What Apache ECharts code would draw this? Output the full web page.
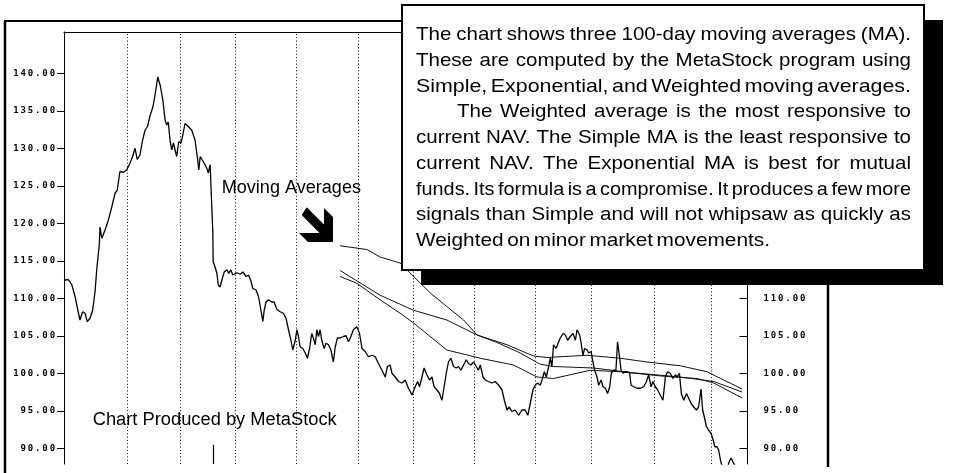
<!DOCTYPE html>
<html>
<head>
<meta charset="utf-8">
<title>100-day Moving Averages</title>
<script src="https://cdn.jsdelivr.net/npm/echarts@6/dist/echarts.min.js"></script>
<style>
  html, body { margin: 0; padding: 0; background: #fff; }
  #chart { width: 955px; height: 473px; }
</style>
</head>
<body>
<div id="chart"></div>
<script>
// Daily NAV: trading-day index and closing value
const priceDay = [0,1.6,2.9,4.1,5.9,6.9,7.8,8.6,9.6,10.6,
  11.5,12.1,13.1,13.3,14.0,15.2,16.4,17.7,18.9,19.7,
  20.7,22.0,23.2,24.4,25.4,26.3,27.1,28.1,29.1,30.0,
  30.9,31.9,32.9,33.7,34.7,35.6,36.6,37.4,38.0,38.6,
  39.3,39.9,40.5,41.1,41.7,42.5,43.3,44.0,44.8,46.0,
  47.3,48.5,49.4,49.9,50.4,51.1,51.9,52.9,53.4,54.1,
  54.4,55.1,55.2,55.9,56.6,57.1,57.8,58.4,59.3,60.3,
  61.0,61.7,62.5,63.2,64.0,65.2,66.2,67.4,68.3,69.1,
  69.9,71.1,72.0,72.9,73.6,74.1,74.8,75.7,76.9,77.8,
  78.8,80.0,81.2,82.2,83.1,84.0,84.7,85.6,86.2,86.8,
  87.4,88.4,89.3,90.1,90.9,91.7,92.3,93.0,93.6,94.2,
  94.8,95.4,96.3,97.0,97.9,98.8,99.7,100.4,101.2,102.2,
  103.4,104.4,105.3,106.2,107.1,108.4,109.4,110.3,111.5,112.7,
  114.0,115.2,116.4,117.7,118.9,119.7,120.7,121.4,122.6,123.8,
  125.1,126.3,127.5,128.8,130.0,130.9,131.6,132.5,133.3,134.3,
  135.3,136.2,137.0,138.0,139.0,139.9,140.7,141.5,142.3,143.2,
  144.2,145.2,146.0,146.9,147.9,148.9,149.7,150.6,151.6,152.6,
  153.4,154.1,155.1,155.9,157.1,158.4,159.6,160.9,162.1,163.0,
  164.0,164.8,165.8,167.0,168.3,169.5,170.7,171.7,172.6,173.6,
  174.4,175.3,176.3,177.1,177.8,178.5,179.1,180.0,180.6,181.2,
  182.1,182.9,183.7,184.7,185.6,186.4,187.4,188.4,189.3,189.9,
  190.9,191.5,192.1,192.7,193.6,194.2,195.1,195.8,196.4,197.3,
  197.9,198.8,199.5,200.4,201.2,202.0,202.6,203.4,204.3,204.9,
  205.7,206.2,206.9,207.8,208.6,209.4,209.9,210.9,212.1,213.3,
  214.6,215.6,216.4,217.3,218.0,218.9,219.7,220.7,221.7,222.6,
  223.4,224.4,225.4,226.3,226.9,227.8,228.5,229.4,230.4,231.2,
  232.1,233.1,234.1,234.9,235.8,236.4,237.0,237.8,238.6,239.5,
  240.3,240.9,241.7,242.3,243.0,243.6,244.4,245.6,246.0,246.9,
  247.6,248.5];
const priceNav = [112.4,112.5,111.8,110.2,107.1,108.2,108.0,106.9,107.3,108.4,
  110.9,113.8,117.3,119.5,118.0,119.1,120.4,122.2,124.0,124.4,
  126.9,126.8,127.1,128.0,128.9,130.0,128.5,129.1,131.1,132.4,
  132.9,134.4,135.5,137.1,139.5,138.4,136.4,133.8,133.1,133.5,
  130.9,129.8,130.7,130.9,128.9,130.9,130.7,131.8,133.3,132.9,
  132.4,131.1,128.7,127.1,128.9,128.9,128.0,127.3,126.7,127.8,
  124.9,118.7,114.9,114.2,113.3,111.8,111.5,112.4,113.5,113.8,
  113.3,113.8,113.1,112.9,113.4,113.2,113.5,112.9,113.1,112.4,
  111.3,111.1,110.2,108.4,106.9,108.4,109.5,109.8,109.5,109.5,
  108.5,108.2,108.0,107.3,105.8,104.4,103.1,104.4,105.8,104.9,
  103.5,103.3,102.7,102.0,103.3,105.3,104.7,103.8,105.8,104.9,
  105.8,104.4,103.3,104.0,103.8,103.1,101.5,103.5,104.7,104.7,
  104.9,105.0,104.2,104.9,105.8,106.2,105.3,103.3,102.9,102.2,
  102.4,102.2,101.3,100.4,99.5,100.9,101.1,100.0,99.5,98.9,
  98.7,99.1,98.0,97.1,98.2,98.9,98.2,99.5,100.7,99.8,
  99.1,99.5,98.2,97.8,97.3,96.4,98.2,100.0,101.5,102.0,
  100.9,100.7,100.9,100.4,101.1,101.8,101.3,101.1,101.5,100.9,
  100.4,101.1,99.5,99.1,98.9,98.7,98.9,98.4,97.8,96.4,
  95.1,95.5,94.9,95.1,94.4,95.1,95.1,94.4,96.0,97.8,
  98.4,98.7,98.4,99.3,100.2,99.5,100.4,102.0,100.9,103.8,
  103.3,104.0,104.7,105.3,105.1,104.4,104.9,105.3,104.4,105.8,
  105.1,103.8,102.4,103.3,103.1,102.7,102.9,101.5,100.4,99.5,
  98.4,99.1,98.2,98.0,97.3,98.2,100.0,100.4,100.4,104.2,
  102.0,100.4,100.0,100.2,100.2,100.0,98.4,98.2,98.0,98.0,
  98.2,98.9,99.8,98.2,98.9,98.2,97.8,97.1,96.4,99.5,
  100.2,100.0,99.3,99.8,99.5,100.0,97.3,96.4,97.3,96.7,
  96.0,95.5,95.1,95.5,97.9,95.1,94.2,92.9,92.4,92.0,
  91.1,90.2,90.2,89.8,88.4,87.6,86.8,87.0,88.0,88.7,
  88.2,87.6];

// 100-day moving averages
const simpleDay = [102.2,112.1,117.0,124.4,129.4,135.6,141.7,147.9,152.9,160.3,168.9,176.3,181.2,196.0,209.6,228.1,240.5,251.0];
const simpleMA  = [117.0,116.5,115.5,114.7,112.9,110.7,108.9,107.1,105.1,104.1,102.7,101.2,100.9,100.7,100.1,99.5,98.9,97.5];
const expDay = [102.2,112.1,117.0,129.4,141.7,152.9,164.0,173.8,178.8,193.6,205.9,215.8,228.1,238.0,244.2,251.0];
const expMA  = [113.7,111.5,110.4,108.4,107.1,105.1,103.8,102.3,102.1,102.4,102.0,101.5,101.0,100.2,99.1,97.9];
const weightedDay = [102.2,108.4,117.0,124.4,129.4,141.7,154.1,166.4,175.1,181.2,194.8,205.9,222.0,234.3,240.5,251.0];
const weightedMA  = [112.9,112.0,109.8,108.0,106.7,103.1,102.0,101.1,99.5,99.3,100.4,100.2,99.6,99.3,98.7,96.7];

// Month boundaries (trading-day index) and the year break
const monthStarts = [23.3,43.0,63.3,85.9,108.9,129.3,151.9,174.4,195.2,218.5,239.6];
const yearBreak = 55.2;

// Price scale labels
const navTicks = [90,95,100,105,110,115,120,125,130,135,140];

// Annotation text
const noteLines = [
  'The chart shows three 100-day moving averages (MA).',
  'These are computed by the MetaStock program using',
  'Simple, Exponential, and Weighted moving averages.',
  'The Weighted average is the most responsive to',
  'current NAV. The Simple MA is the least responsive to',
  'current NAV. The Exponential MA is best for mutual',
  'funds. Its formula is a compromise. It produces a few more',
  'signals than Simple and will not whipsaw as quickly as',
  'Weighted on minor market movements.'
];
const arrowCaption = 'Moving Averages';
const creditText = 'Chart Produced by MetaStock';

// ---------------------------------------------------------------
const FONT = '"Liberation Sans", Arial, Helvetica, sans-serif';
const Y_MIN = 87.9, Y_MAX = 145.5;
const X_MIN = 0, X_MAX = 253;

const measureCtx = document.createElement('canvas').getContext('2d');
function textWidth(t, size) {
  measureCtx.font = size + 'px ' + FONT;
  return measureCtx.measureText(t).width;
}

// One line of text stretched/squeezed to span [left, right]
function fittedText(t, left, right, yc, size, z) {
  const w = textWidth(t, size);
  return {
    type: 'text', x: left, y: yc, z: z, scaleX: (right - left) / w,
    style: { text: t, fontSize: size, fontFamily: FONT, fill: '#000', align: 'left', verticalAlign: 'middle' }
  };
}

// A justified line: words spread across [left, right]
function justifiedLine(t, left, right, yc, size, tight, z) {
  const words = t.split(' ');
  const widths = words.map(w => textWidth(w, size));
  const sum = widths.reduce((a, b) => a + b, 0);
  const avail = right - left;
  const n = words.length;
  const minGap = 3.5;
  let sx = 1.08, gap;
  if (tight) {
    gap = minGap;
    sx = (avail - gap * (n - 1)) / sum;
  } else {
    gap = (avail - sum * sx) / (n - 1);
    if (gap < minGap) { gap = minGap; sx = (avail - gap * (n - 1)) / sum; }
  }
  let x = left;
  return words.map((w, i) => {
    const el = {
      type: 'text', x: x, y: yc, z: z, scaleX: sx,
      style: { text: w, fontSize: size, fontFamily: FONT, fill: '#000', align: 'left', verticalAlign: 'middle' }
    };
    x += widths[i] * sx + gap;
    return el;
  });
}

const chart = echarts.init(document.getElementById('chart'), null, { renderer: 'canvas' });

const labelRich = {
  c: { width: 7.3, align: 'center', fontFamily: '"DejaVu Sans Mono", monospace', fontSize: 9, fontWeight: 'bold', color: '#000' }
};
const labelFormatter = v => Number(v).toFixed(2).split('').map(ch => '{c|' + ch + '}').join('');

function pairs(xs, ys) { return xs.map((x, i) => [x, ys[i]]); }

// Annotation box layout
const BOX = { x: 402, y: 5, w: 522, h: 265, shadowDx: 19, shadowDy: 15 };
const NOTE_SIZE = 19;
const NOTE_LEFT = 416, NOTE_RIGHT = 911, NOTE_TOP = 35, NOTE_STEP = 25.75;
const noteLayout = [
  { left: NOTE_LEFT, right: NOTE_RIGHT, tight: false },
  { left: NOTE_LEFT, right: NOTE_RIGHT, tight: false },
  { left: NOTE_LEFT, right: NOTE_RIGHT, tight: true },
  { left: 457, right: NOTE_RIGHT, tight: false },
  { left: NOTE_LEFT, right: NOTE_RIGHT, tight: false },
  { left: NOTE_LEFT, right: NOTE_RIGHT, tight: false },
  { left: NOTE_LEFT, right: NOTE_RIGHT, tight: true },
  { left: NOTE_LEFT, right: NOTE_RIGHT, tight: false },
  { left: NOTE_LEFT, right: 770, tight: true }
];

const graphics = [
  // outer frame
  { type: 'line', z: 50, shape: { x1: 5, y1: 21, x2: 5, y2: 473 }, style: { stroke: '#000', lineWidth: 2.5 } },
  { type: 'line', z: 50, shape: { x1: 4, y1: 21, x2: 829, y2: 21 }, style: { stroke: '#000', lineWidth: 2 } },
  { type: 'line', z: 50, shape: { x1: 828, y1: 21, x2: 828, y2: 467 }, style: { stroke: '#000', lineWidth: 2.5 } },
  // arrow pointing at the averages
  { type: 'polygon', z: 60, shape: { points: [[306.7,207.3],[324,224.6],[324,208],[333,217],[333,242],[308,242],[299,233],[319.6,233],[301.7,215.1]] }, style: { fill: '#000' } },
  fittedText(arrowCaption, 221.7, 361, 188, 18, 60),
  fittedText(creditText, 92.7, 336.7, 420, 18, 60),
  // note box with drop shadow
  { type: 'rect', z: 100, shape: { x: BOX.x + BOX.shadowDx, y: BOX.y + BOX.shadowDy, width: BOX.w, height: BOX.h }, style: { fill: '#000' } },
  { type: 'rect', z: 101, shape: { x: BOX.x, y: BOX.y, width: BOX.w, height: BOX.h }, style: { fill: '#fff', stroke: '#000', lineWidth: 2 } }
];
noteLines.forEach((t, i) => {
  const L = noteLayout[i];
  graphics.push(...justifiedLine(t, L.left, L.right, NOTE_TOP + i * NOTE_STEP, NOTE_SIZE, L.tight, 102));
});

const option = {
  backgroundColor: '#fff',
  animation: false,
  grid: { left: 64, right: 207.5, top: 32, bottom: 9, containLabel: false },
  xAxis: {
    type: 'value', min: X_MIN, max: X_MAX, position: 'top',
    axisLine: { show: true, onZero: false, lineStyle: { color: '#000', width: 1 } },
    axisTick: { show: false }, axisLabel: { show: false }, splitLine: { show: false }
  },
  yAxis: [
    {
      type: 'value', position: 'left', min: Y_MIN, max: Y_MAX,
      axisLine: { show: true, lineStyle: { color: '#000', width: 1 } },
      axisTick: { show: true, length: 7, customValues: navTicks, lineStyle: { color: '#000', width: 1 } },
      axisLabel: { show: true, margin: 8, customValues: navTicks, formatter: labelFormatter, rich: labelRich },
      splitLine: { show: false }
    },
    {
      type: 'value', position: 'right', min: Y_MIN, max: Y_MAX,
      axisLine: { show: true, lineStyle: { color: '#000', width: 1 } },
      axisTick: { show: true, inside: true, length: 8, customValues: navTicks, lineStyle: { color: '#000', width: 1 } },
      axisLabel: { show: true, margin: 15, customValues: navTicks, formatter: labelFormatter, rich: labelRich },
      splitLine: { show: false }
    }
  ],
  series: [
    {
      name: 'NAV', type: 'line', data: pairs(priceDay, priceNav),
      showSymbol: false, symbol: 'none', clip: true,
      lineStyle: { color: '#000', width: 1.3 },
      markLine: {
        silent: true, symbol: ['none', 'none'], label: { show: false },
        data: monthStarts.map(d => ({ xAxis: d, lineStyle: { type: [1, 2.3], color: '#000', width: 1 } }))
          .concat([[
            { coord: [yearBreak, Y_MIN], lineStyle: { type: 'solid', color: '#000', width: 1.2 } },
            { coord: [yearBreak, 90.45] }
          ]])
      },
      z: 3
    },
    { name: 'Simple MA', type: 'line', data: pairs(simpleDay, simpleMA), showSymbol: false, symbol: 'none', lineStyle: { color: '#111', width: 1 }, z: 2 },
    { name: 'Exponential MA', type: 'line', data: pairs(expDay, expMA), showSymbol: false, symbol: 'none', lineStyle: { color: '#111', width: 1 }, z: 2 },
    { name: 'Weighted MA', type: 'line', data: pairs(weightedDay, weightedMA), showSymbol: false, symbol: 'none', lineStyle: { color: '#111', width: 1 }, z: 2 }
  ],
  graphic: { elements: graphics }
};

chart.setOption(option);
</script>
</body>
</html>
